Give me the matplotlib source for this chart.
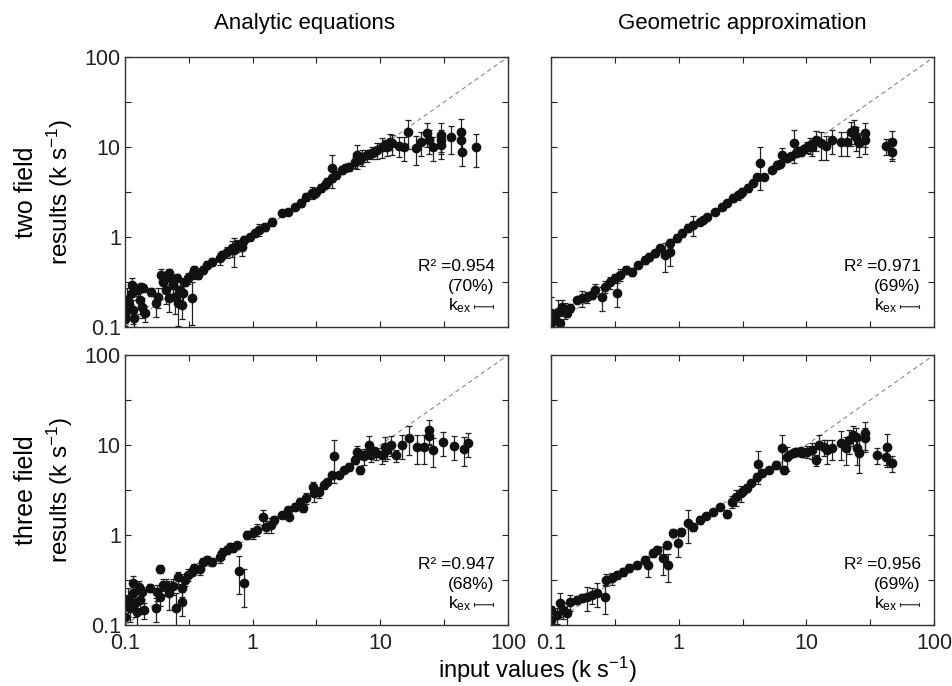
import numpy as np
import matplotlib.pyplot as plt

plt.rcParams['font.family'] = ['Liberation Sans', 'DejaVu Sans']
plt.rcParams['mathtext.fontset'] = 'custom'
plt.rcParams['mathtext.rm'] = 'Liberation Sans'
plt.rcParams['mathtext.it'] = 'Liberation Sans:italic'

# ---- data (x = input, y = result, err = relative error) ----
# two field, analytic equations
ana2_x = [0.10, 0.10, 0.104, 0.108, 0.113, 0.114, 0.116, 0.117, 0.127, 0.131, 0.134, 0.136, 0.138, 0.143,
          0.16, 0.175, 0.18, 0.19, 0.2, 0.21, 0.22, 0.225, 0.22, 0.237, 0.245, 0.255, 0.26, 0.27, 0.28, 0.285,
          0.295, 0.31, 0.335, 0.335, 0.35, 0.37, 0.41, 0.44, 0.48, 0.55, 0.58, 0.63, 0.69, 0.72, 0.76, 0.82,
          0.86, 0.95, 1.04, 1.13, 1.24, 1.43, 1.69, 1.88, 2.13, 2.4, 2.64, 2.9, 3.0, 3.16, 3.46, 3.7, 3.85,
          4.2, 4.5, 4.2, 5.05, 5.3, 5.7, 6.3, 6.6, 6.9, 7.2, 7.9, 8.2, 8.6, 9.0, 9.5, 10.4, 10.8, 11.3, 11.8,
          12.4, 14, 15.4, 16.5, 19, 21, 23, 24, 26, 30, 30, 30, 36, 43, 43, 44, 56]
ana2_y = [0.123, 0.147, 0.2, 0.176, 0.29, 0.24, 0.155, 0.126, 0.26, 0.2, 0.28, 0.167, 0.27, 0.143,
          0.245, 0.185, 0.215, 0.38, 0.32, 0.26, 0.4, 0.35, 0.21, 0.29, 0.215, 0.35, 0.185, 0.26, 0.176, 0.24,
          0.32, 0.35, 0.21, 0.38, 0.43, 0.38, 0.43, 0.49, 0.53, 0.58, 0.63, 0.68, 0.75, 0.72, 0.81, 0.77,
          0.93, 1.0, 1.1, 1.2, 1.3, 1.47, 1.85, 1.9, 2.15, 2.4, 2.78, 3.1, 3.0, 3.16, 3.5, 3.8, 4.1,
          4.5, 4.9, 5.85, 5.55, 5.8, 6.0, 6.8, 8.1, 7.2, 7.7, 8.1, 8.4, 8.6, 8.9, 9.2, 10, 10.5, 10, 11.5,
          11, 10.3, 10, 14.7, 9.7, 11.3, 14.3, 12, 10, 13.6, 12, 10.6, 12.8, 14.7, 12, 8.8, 10]
ana2_err = [0.1, 0.3, 0.35, 0.3, 0.2, 0.3, 0.3, 0.2, 0.15, 0.3, 0.1, 0.25, 0.1, 0.2,
            0.1, 0.3, 0.25, 0.15, 0.15, 0.3, 0.1, 0.15, 0.3, 0.2, 0.35, 0.1, 0.45, 0.3, 0.3, 0.25,
            0.1, 0.15, 0.5, 0.1, 0.1, 0.1, 0.1, 0.1, 0.1, 0.15, 0.1, 0.15, 0.2, 0.35, 0.15, 0.2,
            0.1, 0.08, 0.1, 0.15, 0.1, 0.1, 0.05, 0.05, 0.05, 0.1, 0.1, 0.15, 0.05, 0.1, 0.1, 0.05, 0.1,
            0.1, 0.1, 0.4, 0.1, 0.05, 0.1, 0.15, 0.3, 0.1, 0.2, 0.15, 0.1, 0.15, 0.1, 0.2, 0.25, 0.15, 0.2, 0.2,
            0.25, 0.25, 0.3, 0.35, 0.35, 0.3, 0.3, 0.3, 0.3, 0.35, 0.3, 0.3, 0.35, 0.4, 0.3, 0.3, 0.4]

# three field, analytic equations
ana3_x = [0.1, 0.1, 0.106, 0.11, 0.115, 0.115, 0.12, 0.124, 0.128, 0.13, 0.136, 0.14, 0.157, 0.175,
          0.178, 0.188, 0.188, 0.2, 0.21, 0.22, 0.237, 0.25, 0.26, 0.28, 0.28, 0.295, 0.31, 0.335, 0.35,
          0.385, 0.41, 0.44, 0.48, 0.55, 0.58, 0.63, 0.66, 0.7, 0.75, 0.78, 0.85, 0.91, 1.0, 1.09, 1.2,
          1.28, 1.4, 1.48, 1.69, 1.94, 1.88, 2.13, 2.33, 2.46, 2.64, 2.95, 3.05, 3.33, 3.65, 3.85, 4.2,
          4.35, 4.77, 5.2, 5.7, 6.3, 6.9, 6.6, 7.2, 7.5, 8.0, 8.2, 8.5, 9.0, 9.3, 10.4, 10.8, 11.3, 12.2,
          13.2, 14.8, 16.8, 19.5, 22, 24, 24, 26, 31, 38, 45, 49]
ana3_y = [0.167, 0.123, 0.19, 0.155, 0.29, 0.227, 0.176, 0.14, 0.265, 0.19, 0.23, 0.147, 0.257, 0.155,
          0.23, 0.42, 0.205, 0.28, 0.27, 0.227, 0.27, 0.155, 0.34, 0.18, 0.257, 0.32, 0.36, 0.39, 0.43,
          0.42, 0.5, 0.53, 0.5, 0.57, 0.63, 0.68, 0.74, 0.72, 0.77, 0.4, 0.29, 1.0, 1.05, 1.14, 1.6,
          1.23, 1.3, 1.47, 1.67, 1.58, 1.9, 2.05, 2.33, 2.0, 2.58, 3.4, 2.9, 3.0, 3.6, 3.9, 4.6,
          7.5, 4.6, 5.3, 5.7, 6.8, 5.3, 8.4, 7.8, 7.5, 8.0, 10, 7.7, 8.6, 8.1, 7.7, 9.5, 8.8, 10,
          7.7, 10, 12, 9.5, 9.5, 14.7, 12.5, 8.8, 10.8, 9.8, 9, 10.5]
ana3_err = [0.3, 0.2, 0.35, 0.3, 0.2, 0.35, 0.3, 0.3, 0.15, 0.3, 0.15, 0.2, 0.1, 0.3,
            0.2, 0.1, 0.2, 0.15, 0.2, 0.35, 0.2, 0.45, 0.15, 0.3, 0.2, 0.15, 0.15, 0.1, 0.1,
            0.15, 0.1, 0.1, 0.1, 0.15, 0.15, 0.1, 0.1, 0.1, 0.1, 0.45, 0.45, 0.1, 0.15, 0.15, 0.2,
            0.15, 0.2, 0.1, 0.05, 0.05, 0.05, 0.1, 0.1, 0.1, 0.15, 0.15, 0.2, 0.15, 0.1, 0.05, 0.1,
            0.5, 0.05, 0.05, 0.1, 0.1, 0.1, 0.15, 0.1, 0.2, 0.1, 0.25, 0.15, 0.1, 0.15, 0.2, 0.3, 0.2, 0.25,
            0.15, 0.3, 0.35, 0.35, 0.35, 0.3, 0.2, 0.35, 0.3, 0.3, 0.35, 0.3]

# two field, geometric approximation
geo2_x = [0.1, 0.1, 0.107, 0.113, 0.117, 0.122, 0.128, 0.133, 0.14, 0.16, 0.175, 0.19, 0.21, 0.22,
          0.25, 0.265, 0.29, 0.33, 0.315, 0.345, 0.39, 0.43, 0.48, 0.54, 0.59, 0.65, 0.71, 0.78, 0.85,
          0.85, 0.97, 1.07, 1.18, 1.29, 1.46, 1.55, 1.68, 1.91, 2.17, 2.4, 2.64, 2.9, 3.0, 3.16, 3.46,
          3.8, 4.1, 4.3, 4.7, 5.4, 5.9, 6.2, 6.5, 7.1, 7.6, 8.0, 8.3, 8.8, 9.1, 9.6, 10.2, 10.7, 11.1,
          12, 13.1, 14.3, 16, 18.8, 21, 22.5, 23.7, 24.6, 26, 29, 29, 42, 47, 47]
geo2_y = [0.143, 0.11, 0.126, 0.147, 0.11, 0.167, 0.155, 0.143, 0.163, 0.2, 0.21, 0.215, 0.227, 0.26,
          0.215, 0.28, 0.315, 0.24, 0.35, 0.38, 0.43, 0.41, 0.49, 0.56, 0.6, 0.66, 0.75, 0.63, 0.68,
          0.86, 0.97, 1.1, 1.26, 1.36, 1.47, 1.55, 1.67, 1.9, 2.15, 2.4, 2.7, 2.9, 3.0, 3.16, 3.5,
          4.0, 4.6, 6.6, 4.6, 5.55, 6.3, 6.5, 8.1, 7.5, 7.9, 11, 8.6, 9.0, 8.8, 9.5, 10, 10.5, 10,
          12, 11, 10.3, 12, 11.3, 11.3, 14.7, 15.4, 12.8, 11, 14.3, 12, 10.3, 11.3, 8.8]
geo2_err = [0.5, 0.1, 0.15, 0.35, 0.1, 0.2, 0.2, 0.1, 0.1, 0.05, 0.2, 0.15, 0.1, 0.15,
            0.3, 0.15, 0.15, 0.3, 0.1, 0.15, 0.1, 0.1, 0.05, 0.1, 0.1, 0.1, 0.1, 0.35, 0.3,
            0.1, 0.1, 0.1, 0.1, 0.25, 0.05, 0.05, 0.05, 0.05, 0.05, 0.05, 0.1, 0.1, 0.05, 0.1, 0.1,
            0.05, 0.05, 0.5, 0.05, 0.05, 0.1, 0.05, 0.2, 0.1, 0.05, 0.4, 0.1, 0.1, 0.1, 0.1, 0.15, 0.2, 0.2,
            0.25, 0.35, 0.3, 0.3, 0.3, 0.3, 0.3, 0.3, 0.3, 0.3, 0.3, 0.3, 0.2, 0.35, 0.2]

# three field, geometric approximation
geo3_x = [0.1, 0.1, 0.111, 0.117, 0.124, 0.133, 0.14, 0.16, 0.175, 0.19, 0.21, 0.23, 0.265, 0.27,
          0.3, 0.33, 0.365, 0.41, 0.47, 0.54, 0.57, 0.63, 0.68, 0.75, 0.82, 0.81, 0.9, 0.98, 1.05,
          1.18, 1.29, 1.46, 1.65, 1.85, 2.09, 2.37, 2.6, 2.83, 3.1, 3.2, 3.4, 3.7, 4.07, 4.2, 4.5,
          5.1, 5.8, 6.4, 6.7, 7.1, 7.3, 7.8, 8.1, 8.5, 9.0, 9.3, 10.2, 11.1, 12, 12.6, 13.8, 14.6,
          16, 18.8, 20.5, 21.6, 23, 24.6, 25, 26, 29, 29, 36, 42, 43, 47]
geo3_y = [0.147, 0.113, 0.129, 0.176, 0.147, 0.136, 0.18, 0.19, 0.2, 0.205, 0.215, 0.227, 0.205, 0.32,
          0.33, 0.36, 0.39, 0.43, 0.46, 0.53, 0.46, 0.63, 0.68, 0.55, 0.46, 0.77, 1.05, 0.81, 1.08,
          1.36, 1.23, 1.47, 1.63, 1.8, 2.05, 1.71, 2.33, 2.64, 2.9, 3.1, 3.33, 3.8, 4.4, 6.1, 4.9,
          5.3, 6.0, 9.2, 5.3, 7.4, 7.8, 8.1, 8.3, 8.4, 8.6, 8.1, 8.4, 8.8, 6.8, 10, 9.5, 8.8,
          9.2, 10.5, 9.2, 11.4, 12.9, 12.3, 9.2, 8.1, 13.5, 12, 7.7, 7.4, 9.5, 6.3]
geo3_err = [0.1, 0.1, 0.2, 0.3, 0.2, 0.3, 0.2, 0.1, 0.1, 0.3, 0.2, 0.3, 0.35, 0.15,
            0.15, 0.1, 0.1, 0.1, 0.1, 0.1, 0.25, 0.1, 0.1, 0.35, 0.35, 0.1, 0.1, 0.3, 0.1,
            0.4, 0.1, 0.1, 0.05, 0.05, 0.05, 0.1, 0.15, 0.2, 0.2, 0.05, 0.1, 0.05, 0.1, 0.4, 0.05,
            0.05, 0.1, 0.4, 0.1, 0.3, 0.05, 0.1, 0.05, 0.1, 0.05, 0.1, 0.15, 0.2, 0.15, 0.3, 0.2, 0.3,
            0.25, 0.35, 0.35, 0.3, 0.25, 0.25, 0.35, 0.4, 0.35, 0.3, 0.2, 0.2, 0.4, 0.2]

panels = [
    (ana2_x, ana2_y, ana2_err, '0.954', '70%'),
    (geo2_x, geo2_y, geo2_err, '0.971', '69%'),
    (ana3_x, ana3_y, ana3_err, '0.947', '68%'),
    (geo3_x, geo3_y, geo3_err, '0.956', '69%'),
]
col_titles = ['Analytic equations', 'Geometric approximation']
row_labels = ['two field', 'three field']

fig = plt.figure(figsize=(9.52, 6.86), dpi=100)
fig.patch.set_facecolor('white')

# axes boxes in figure fraction: [left, bottom, width, height]
boxes = [[0.1313, 0.5233, 0.4023, 0.3936], [0.5788, 0.5233, 0.4023, 0.3936],
         [0.1313, 0.0889, 0.4023, 0.3936], [0.5788, 0.0889, 0.4023, 0.3936]]

ticks = 10 ** np.arange(-1, 2.01, 0.5)
tick_labels = ['0.1', '', '1', '', '10', '', '100']

for i, (x, y, err, r2, pct) in enumerate(panels):
    ax = fig.add_axes(boxes[i])
    x = np.array(x)
    y = np.array(y)
    err = np.array(err)

    ax.plot([0.1, 100], [0.1, 100], ls=(0, (4, 3)), color='#888888', lw=0.8, zorder=1)
    ax.errorbar(x, y, yerr=[y * err, y * err], fmt='o', ms=6, color='#111111',
                ecolor='#222222', elinewidth=0.9, capsize=2.3, capthick=0.9, zorder=2)

    ax.set_xscale('log')
    ax.set_yscale('log')
    ax.set_xlim(0.1, 100)
    ax.set_ylim(0.1, 100)
    ax.set_xticks(ticks)
    ax.set_yticks(ticks)
    ax.minorticks_off()
    ax.set_xticklabels(tick_labels if i >= 2 else [''] * len(ticks))
    ax.set_yticklabels(tick_labels if i % 2 == 0 else [''] * len(ticks))
    ax.tick_params(direction='in', top=True, right=True, length=4, width=0.8,
                   labelsize=15.5, colors='#222222')
    ax.tick_params(axis='x', pad=6)
    ax.tick_params(axis='y', pad=3)
    for s in ax.spines.values():
        s.set_color('#333333')
        s.set_linewidth(1.0)

    ax.text(0.965, 0.225, 'R\u00b2 =' + r2, transform=ax.transAxes, ha='right', va='center', fontsize=12.5)
    ax.text(0.965, 0.15, '(' + pct + ')', transform=ax.transAxes, ha='right', va='center', fontsize=12.5)
    ax.text(0.905, 0.08, 'k$_{\\mathregular{ex}}$', transform=ax.transAxes, ha='right', va='center', fontsize=12.5)
    ax.annotate('', xy=(0.962, 0.075), xytext=(0.912, 0.075), xycoords='axes fraction',
                arrowprops=dict(arrowstyle='|-|, widthA=0.12, widthB=0.12', lw=0.8, color='#222222',
                                shrinkA=0, shrinkB=0))

fig.text(0.32, 0.966, col_titles[0], ha='center', va='center', fontsize=16)
fig.text(0.78, 0.966, col_titles[1], ha='center', va='center', fontsize=16)

for yc, name in zip([0.72, 0.286], row_labels):
    fig.text(0.027, yc, name, rotation=90, ha='center', va='center', fontsize=18)
    fig.text(0.063, yc, 'results (k s$^{-1}$)', rotation=90, ha='center', va='center', fontsize=17.5)

fig.text(0.565, 0.023, 'input values (k s$^{-1}$)', ha='center', va='center', fontsize=17)

fig.savefig('out.png', dpi=100)
